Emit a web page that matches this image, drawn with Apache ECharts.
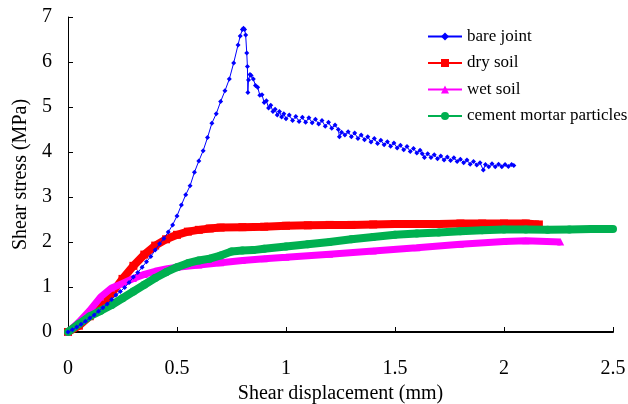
<!DOCTYPE html>
<html>
<head>
<meta charset="utf-8">
<script src="https://cdn.jsdelivr.net/npm/echarts@6/dist/echarts.min.js"></script>
<style>
html,body{margin:0;padding:0;background:#fff;}
#chart{width:628px;height:404px;}
</style>
</head>
<body>
<div id="chart"></div>
<script>
// Series names
const seriesNames = ['bare joint', 'dry soil', 'wet soil', 'cement mortar particles'];

// x: shear displacement (mm), y: shear stress (MPa)
const bareJoint = [
  [0,0],[0.02,0.05],[0.04,0.11],[0.06,0.17],[0.08,0.24],[0.10,0.31],[0.12,0.38],[0.14,0.46],
  [0.16,0.54],[0.18,0.62],[0.20,0.72],[0.22,0.82],[0.24,0.90],[0.26,0.99],[0.28,1.10],[0.30,1.22],
  [0.32,1.32],[0.34,1.44],[0.36,1.56],[0.38,1.68],[0.40,1.82],[0.42,1.96],[0.44,2.08],[0.46,2.22],
  [0.48,2.38],[0.50,2.58],[0.52,2.82],[0.54,3.05],[0.56,3.25],[0.58,3.55],[0.60,3.80],[0.62,4.03],
  [0.64,4.32],[0.66,4.64],[0.68,4.85],[0.70,5.12],[0.72,5.36],[0.74,5.62],[0.76,5.98],[0.78,6.38],
  [0.79,6.58],[0.80,6.72],[0.805,6.75],[0.81,6.72],[0.815,6.60],[0.82,6.20],[0.823,5.90],[0.825,5.32],
  [0.828,5.60],[0.835,5.72],[0.84,5.70],[0.85,5.62],[0.86,5.48],[0.87,5.44],[0.88,5.26],[0.89,5.27],
  [0.90,5.10],[0.91,5.14],[0.92,4.98],[0.93,5.04],[0.94,4.90],[0.95,4.95],[0.96,4.82],[0.97,4.90],
  [0.98,4.78],[0.99,4.85],[1.00,4.74],[1.015,4.82],[1.03,4.70],[1.045,4.79],[1.06,4.68],[1.075,4.77],
  [1.09,4.66],[1.105,4.76],[1.12,4.65],[1.135,4.73],[1.15,4.62],[1.165,4.70],[1.18,4.57],[1.195,4.66],
  [1.21,4.53],[1.225,4.60],[1.24,4.50],[1.245,4.34],[1.255,4.44],[1.27,4.38],[1.285,4.45],[1.30,4.34],
  [1.315,4.42],[1.33,4.30],[1.345,4.38],[1.36,4.27],[1.375,4.34],[1.39,4.22],[1.405,4.30],[1.42,4.19],
  [1.435,4.26],[1.45,4.16],[1.465,4.23],[1.48,4.13],[1.495,4.20],[1.51,4.09],[1.525,4.15],[1.54,4.05],
  [1.555,4.12],[1.57,4.01],[1.585,4.08],[1.60,3.98],[1.615,4.04],[1.625,3.96],[1.635,3.88],[1.65,3.96],
  [1.665,3.88],[1.68,3.94],[1.695,3.85],[1.71,3.91],[1.725,3.82],[1.74,3.89],[1.755,3.81],[1.77,3.87],
  [1.785,3.79],[1.80,3.84],[1.815,3.76],[1.83,3.82],[1.845,3.73],[1.86,3.79],[1.875,3.71],[1.89,3.76],
  [1.905,3.60],[1.915,3.72],[1.93,3.67],[1.945,3.74],[1.96,3.67],[1.975,3.73],[1.99,3.67],[2.005,3.72],
  [2.02,3.68],[2.035,3.72],[2.045,3.70]
];

const drySoil = [
  [0,0],[0.05,0.14],[0.10,0.35],[0.15,0.58],[0.20,0.86],[0.25,1.18],[0.30,1.47],[0.35,1.72],
  [0.40,1.92],[0.45,2.06],[0.50,2.16],[0.55,2.23],[0.60,2.27],[0.65,2.30],[0.70,2.32],[0.80,2.33],
  [0.90,2.34],[1.00,2.36],[1.10,2.37],[1.20,2.38],[1.30,2.38],[1.40,2.39],[1.50,2.40],[1.60,2.40],
  [1.70,2.40],[1.80,2.41],[1.90,2.41],[2.00,2.41],[2.10,2.41],[2.16,2.39]
];

const wetSoil = [
  [0,0],[0.05,0.22],[0.10,0.48],[0.15,0.78],[0.20,0.98],[0.25,1.08],[0.30,1.19],[0.35,1.28],
  [0.40,1.35],[0.45,1.40],[0.50,1.44],[0.60,1.49],[0.70,1.54],[0.80,1.59],[0.90,1.63],[1.00,1.66],
  [1.20,1.73],[1.40,1.80],[1.60,1.87],[1.80,1.95],[2.00,2.01],[2.10,2.03],[2.26,2.00]
];

const cementMortar = [
  [0,0],[0.05,0.18],[0.10,0.35],[0.15,0.47],[0.20,0.60],[0.25,0.75],[0.30,0.90],[0.35,1.05],
  [0.40,1.20],[0.45,1.33],[0.50,1.44],[0.55,1.53],[0.60,1.59],[0.65,1.63],[0.70,1.70],[0.75,1.79],
  [0.80,1.81],[0.85,1.82],[0.90,1.85],[1.00,1.90],[1.10,1.95],[1.20,2.00],[1.30,2.06],[1.40,2.11],
  [1.50,2.16],[1.60,2.19],[1.70,2.21],[1.80,2.24],[1.90,2.26],[2.00,2.28],[2.10,2.28],[2.20,2.27],
  [2.30,2.28],[2.40,2.29],[2.50,2.29]
];

const xTicks = { min: 0, max: 2.5, interval: 0.5 };
const yTicks = { min: 0, max: 7, interval: 1 };

const FONT = "'Liberation Serif','Times New Roman',serif";

const chart = echarts.init(document.getElementById('chart'), null, { renderer: 'canvas' });

chart.setOption({
  animation: false,
  backgroundColor: '#ffffff',
  textStyle: { fontFamily: FONT, color: '#000' },
  grid: { left: 68, right: 15, top: 17, bottom: 72, containLabel: false, outerBoundsMode: 'none' },
  legend: {
    orient: 'vertical',
    left: 422,
    top: 23,
    itemWidth: 34,
    itemHeight: 10,
    itemGap: 9.5,
    data: seriesNames,
    textStyle: { fontFamily: FONT, fontSize: 17, color: '#000' },
    lineStyle: { width: 2 }
  },
  xAxis: {
    type: 'value',
    min: xTicks.min, max: xTicks.max, interval: xTicks.interval,
    name: 'Shear displacement (mm)',
    nameLocation: 'middle',
    nameGap: 46,
    nameTextStyle: { fontFamily: FONT, fontSize: 20, color: '#000' },
    axisLine: { show: true, onZero: false, lineStyle: { color: '#000', width: 2 } },
    axisTick: { show: true, inside: true, length: 5, lineStyle: { color: '#000', width: 1 } },
    axisLabel: { margin: 27, fontFamily: FONT, fontSize: 20, color: '#000' },
    splitLine: { show: false }
  },
  yAxis: {
    type: 'value',
    min: yTicks.min, max: yTicks.max, interval: yTicks.interval,
    name: 'Shear stress (MPa)',
    nameLocation: 'middle',
    nameGap: 37,
    nameTextStyle: { fontFamily: FONT, fontSize: 20, color: '#000' },
    axisLine: { show: true, lineStyle: { color: '#000', width: 1 } },
    axisTick: { show: true, inside: true, length: 5, lineStyle: { color: '#000', width: 1 } },
    axisLabel: { margin: 16, fontFamily: FONT, fontSize: 20, color: '#000' },
    splitLine: { show: false }
  },
  series: [
    {
      name: seriesNames[1], type: 'line', data: drySoil, z: 2,
      symbol: 'rect', symbolSize: 8, showAllSymbol: true,
      lineStyle: { color: '#ff0000', width: 8 }, itemStyle: { color: '#ff0000' }
    },
    {
      name: seriesNames[2], type: 'line', data: wetSoil, z: 3,
      symbol: 'triangle', symbolSize: 7, showAllSymbol: true,
      lineStyle: { color: '#ff00ff', width: 7 }, itemStyle: { color: '#ff00ff' }
    },
    {
      name: seriesNames[3], type: 'line', data: cementMortar, z: 4,
      symbol: 'circle', symbolSize: 8, showAllSymbol: true,
      lineStyle: { color: '#00b050', width: 8 }, itemStyle: { color: '#00b050' }
    },
    {
      name: seriesNames[0], type: 'line', data: bareJoint, z: 5,
      symbol: 'diamond', symbolSize: 5, showAllSymbol: true,
      lineStyle: { color: '#0000ff', width: 1 }, itemStyle: { color: '#0000ff' }
    }
  ]
});
</script>
</body>
</html>
